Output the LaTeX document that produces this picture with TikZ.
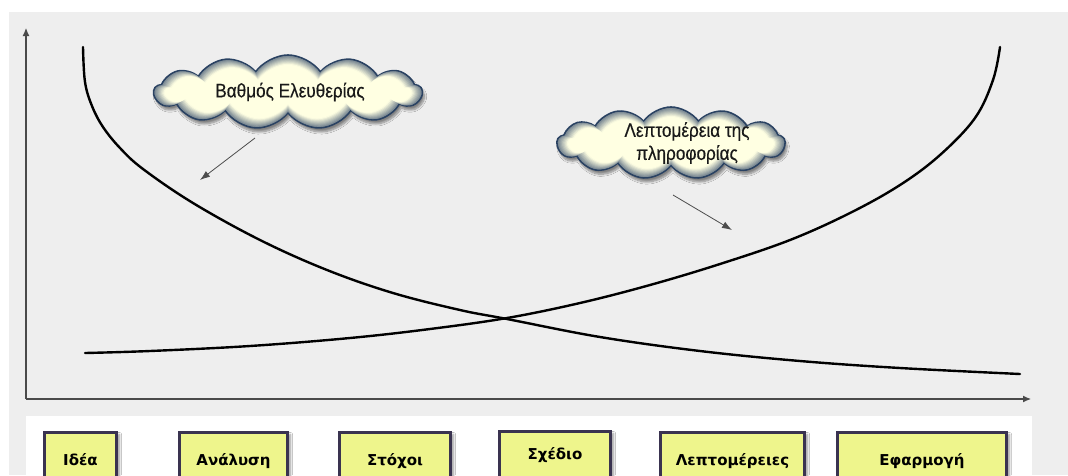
\documentclass[tikz,border=0pt]{standalone}
\usepackage{fontspec}
\setmainfont{Liberation Sans}
\newfontfamily\cloudfont[FakeStretch=0.88,FakeBold=0.35]{Liberation Sans}
\newfontfamily\boxfont{DejaVu Sans}
\usetikzlibrary{shapes.symbols,shadows.blur,arrows.meta}

\definecolor{panelgray}{HTML}{EEEEEE}
\definecolor{stagefill}{HTML}{EEF58C}
\definecolor{stageedge}{HTML}{3A3350}
\definecolor{cloudedge}{HTML}{2A4262}
\definecolor{cloudin}{HTML}{FFFFE2}
\definecolor{cloudout}{HTML}{6E7E8C}
\definecolor{axisgray}{HTML}{4A4A4A}

\tikzset{
  stagebox/.style={draw=stageedge, line width=3.2pt, fill=stagefill,
    anchor=north, inner ysep=0pt, text depth=34pt,
    font=\boxfont\bfseries\fontsize{15}{18}\selectfont,
    blur shadow={shadow xshift=3pt, shadow yshift=-2pt,
      shadow opacity=40, shadow blur steps=6}},
  cloudshape/.style={cloud, cloud puffs=13, cloud puff arc=110,
    cloud ignores aspect, inner sep=0pt},
  cloudbase/.style={cloudshape, draw=cloudedge, line width=1.6pt,
    fill=cloudout,
    blur shadow={shadow xshift=2pt, shadow yshift=-4pt,
      shadow opacity=45, shadow blur steps=8}},
  cloudtext/.style={font=\cloudfont\fontsize{19.5}{23}\selectfont,
    text=black!90, align=center},
  curve/.style={line width=2.4pt, line cap=round},
  axis/.style={axisgray, line width=1.1pt, -{Latex[length=8pt,width=7pt]}},
  pointer/.style={black!70, line width=0.8pt, -{Latex[length=10pt,width=7pt]}}
}

% a cloud with a soft rim: name, centre, width, height
\newcommand\shadedcloud[4]{%
  \node[cloudbase, minimum width=#3pt, minimum height=#4pt] (#1) at (#2) {};
  \foreach \k in {1,...,9}{%
    \pgfmathsetmacro\cw{#3-2.6*\k}%
    \pgfmathsetmacro\ch{#4-2.2*\k}%
    \pgfmathsetmacro\mix{min(100,\k*12)}%
    \node[cloudshape, fill=cloudin!\mix!cloudout,
      minimum width=\cw pt, minimum height=\ch pt] (#1-\k) at (#2) {};
  }%
}

\begin{document}
\begin{tikzpicture}[x=1pt,y=1pt]
  \useasboundingbox (0,0) rectangle (1068,-475);
  \clip (0,0) rectangle (1068,-475);

  % panels
  \fill[panelgray] (9,-12) rectangle (1068,-475);
  \fill[white] (26,-416) rectangle (1032,-475);

  % axes
  \coordinate (origin) at (26,-399);
  \coordinate (ytip) at (26,-28);
  \coordinate (xtip) at (1031,-399);
  \draw[axis] (origin) -- (ytip);
  \draw[axis] (origin) -- (xtip);

  % degree of freedom: falling curve
  \draw[curve] plot[smooth, tension=0.6] coordinates {
    (83,-47) (85,-82) (92,-106) (103,-127) (120,-148) (143,-169)
    (193,-203) (260,-240) (327,-270) (393,-293) (460,-310) (507,-319)
    (600,-337) (700,-351) (800,-361) (900,-368) (1020,-374)};

  % detail of information: rising curve
  \draw[curve] plot[smooth, tension=0.6] coordinates {
    (85,-353) (150,-351) (250,-346) (350,-338) (430,-329) (507,-318)
    (580,-303) (650,-285) (720,-264) (790,-240) (850,-213) (900,-185)
    (940,-155) (975,-118) (993,-80) (1000,-47)};

  % clouds
  \shadedcloud{c1}{288,-92}{268}{74}
  \node[cloudtext] (c1t) at (290,-92) {Βαθμός Ελευθερίας};
  \shadedcloud{c2}{671,-143}{228}{72}
  \node[cloudtext] (c2t) at (687,-143) {Λεπτομέρεια της\\πληροφορίας};

  % pointers
  \coordinate (p1s) at (255,-138);
  \coordinate (p1e) at (200,-180);
  \coordinate (p2s) at (673,-195);
  \coordinate (p2e) at (732,-230);
  \draw[pointer] (p1s) -- (p1e);
  \draw[pointer] (p2s) -- (p2e);

  % stages
  \node[stagebox, minimum width=72pt,  text height=32.5pt] (s1) at (80.5,-431) {Ιδέα};
  \node[stagebox, minimum width=108pt, text height=32.5pt] (s2) at (233.5,-431) {Ανάλυση};
  \node[stagebox, minimum width=111pt, text height=32.5pt] (s3) at (395,-431) {Στόχοι};
  \node[stagebox, minimum width=111pt, text height=27.5pt] (s4) at (555,-430) {Σχέδιο};
  \node[stagebox, minimum width=144pt, text height=32.5pt] (s5) at (732.5,-431) {Λεπτομέρειες};
  \node[stagebox, minimum width=169pt, text height=32.5pt] (s6) at (922,-431) {Εφαρμογή};
\end{tikzpicture}
\end{document}
